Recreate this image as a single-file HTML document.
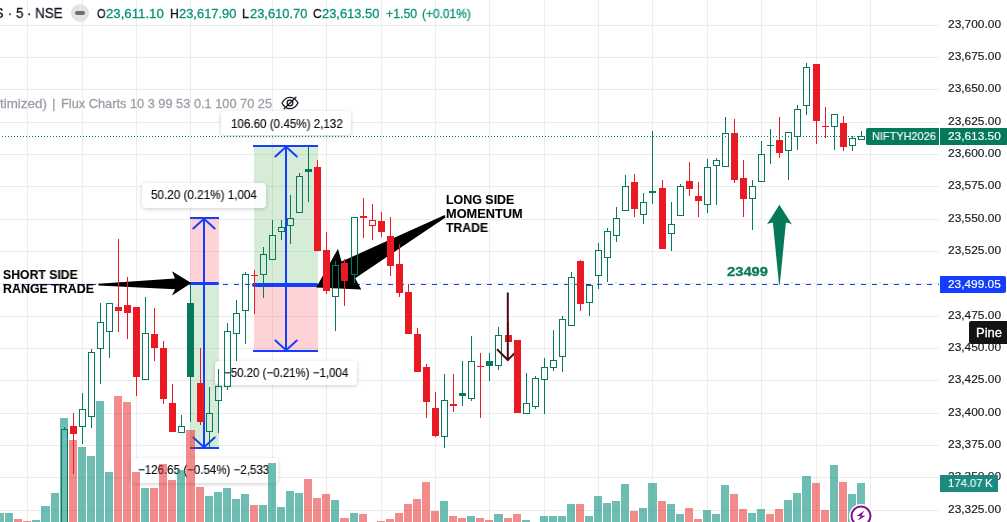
<!DOCTYPE html>
<html><head><meta charset="utf-8"><title>chart</title>
<style>
html,body{margin:0;padding:0;background:#fff;}
body{width:1007px;height:522px;position:relative;overflow:hidden;font-family:"Liberation Sans",sans-serif;color:#131722;}
.lay{position:absolute;left:0;top:0;}
.t{position:absolute;white-space:pre;line-height:20px;height:20px;transform-origin:0 50%;display:block;will-change:transform;}
.lbl{position:absolute;background:rgba(255,255,255,0.9);border-radius:4px;box-shadow:0 1px 4px rgba(0,0,0,0.2);}
.bx{position:absolute;}
</style></head><body>
<svg width="1007" height="522" viewBox="0 0 1007 522" class="lay" shape-rendering="crispEdges"><rect x="27" y="0" width="1" height="522" fill="#ebeded" />
<rect x="82" y="0" width="1" height="522" fill="#ebeded" />
<rect x="136" y="0" width="1" height="522" fill="#ebeded" />
<rect x="190" y="0" width="1" height="522" fill="#ebeded" />
<rect x="272" y="0" width="1" height="522" fill="#ebeded" />
<rect x="326" y="0" width="1" height="522" fill="#ebeded" />
<rect x="381" y="0" width="1" height="522" fill="#ebeded" />
<rect x="435" y="0" width="1" height="522" fill="#ebeded" />
<rect x="489" y="0" width="1" height="522" fill="#ebeded" />
<rect x="544" y="0" width="1" height="522" fill="#ebeded" />
<rect x="598" y="0" width="1" height="522" fill="#ebeded" />
<rect x="652" y="0" width="1" height="522" fill="#ebeded" />
<rect x="707" y="0" width="1" height="522" fill="#ebeded" />
<rect x="761" y="0" width="1" height="522" fill="#ebeded" />
<rect x="816" y="0" width="1" height="522" fill="#ebeded" />
<rect x="870" y="0" width="1" height="522" fill="#ebeded" />
<rect x="0" y="25" width="939" height="1" fill="#ebeded" />
<rect x="0" y="57" width="939" height="1" fill="#ebeded" />
<rect x="0" y="89" width="939" height="1" fill="#ebeded" />
<rect x="0" y="122" width="939" height="1" fill="#ebeded" />
<rect x="0" y="154" width="939" height="1" fill="#ebeded" />
<rect x="0" y="186" width="939" height="1" fill="#ebeded" />
<rect x="0" y="219" width="939" height="1" fill="#ebeded" />
<rect x="0" y="251" width="939" height="1" fill="#ebeded" />
<rect x="0" y="283" width="939" height="1" fill="#ebeded" />
<rect x="0" y="316" width="939" height="1" fill="#ebeded" />
<rect x="0" y="348" width="939" height="1" fill="#ebeded" />
<rect x="0" y="380" width="939" height="1" fill="#ebeded" />
<rect x="0" y="413" width="939" height="1" fill="#ebeded" />
<rect x="0" y="445" width="939" height="1" fill="#ebeded" />
<rect x="0" y="477" width="939" height="1" fill="#ebeded" />
<rect x="0" y="510" width="939" height="1" fill="#ebeded" />
<rect x="190" y="218" width="29" height="65.5" fill="rgba(247,110,120,0.30)" />
<rect x="190" y="283.5" width="29" height="164.5" fill="rgba(76,175,80,0.23)" />
<rect x="254" y="146" width="64" height="139" fill="rgba(76,175,80,0.23)" />
<rect x="254" y="285" width="64" height="66" fill="rgba(247,110,120,0.30)" />
<rect x="189.5" y="217" width="29.5" height="2" fill="#153dff" /><rect x="189.5" y="447" width="29.5" height="2" fill="#153dff" /><line x1="190.0" y1="283.5" x2="217.5" y2="283.5" stroke="#153dff" stroke-width="3" stroke-linecap="round" shape-rendering="auto"/><rect x="203" y="218" width="2" height="230" fill="#153dff" /><path d="M193.3 228.5 L204 218.8 L214.7 228.5" fill="none" stroke="#153dff" stroke-width="2" stroke-linecap="round" shape-rendering="auto"/><path d="M193.3 437.5 L204 447.2 L214.7 437.5" fill="none" stroke="#153dff" stroke-width="2" stroke-linecap="round" shape-rendering="auto"/>
<rect x="253" y="145" width="65.3" height="2" fill="#153dff" /><rect x="253" y="350" width="65.3" height="2" fill="#153dff" /><line x1="254.0" y1="285" x2="316.3" y2="285" stroke="#153dff" stroke-width="4" stroke-linecap="round" shape-rendering="auto"/><rect x="285.1" y="146" width="2" height="205" fill="#153dff" /><path d="M275.40000000000003 156.5 L286.1 146.8 L296.8 156.5" fill="none" stroke="#153dff" stroke-width="2" stroke-linecap="round" shape-rendering="auto"/><path d="M275.40000000000003 340.5 L286.1 350.2 L296.8 340.5" fill="none" stroke="#153dff" stroke-width="2" stroke-linecap="round" shape-rendering="auto"/>
<line x1="-8" y1="284.5" x2="939" y2="284.5" stroke="#153dff" stroke-width="1" stroke-dasharray="5 6"/></svg>
<div class="lbl" style="left:221.3px;top:110.5px;width:129.7px;height:24.5px"></div><div class="lbl" style="left:142.0px;top:183.0px;width:124.2px;height:25.0px"></div><div class="lbl" style="left:215.0px;top:360.8px;width:142.0px;height:24.5px"></div><div class="lbl" style="left:130.8px;top:458.2px;width:147.2px;height:24.9px"></div>
<span class="t" style="left:230.60px;top:113.54px;font-size:12.3px;font-weight:normal;color:#0c0e14;-webkit-text-stroke:0.15px;transform:scaleX(0.9452);">106.60 (0.45%) 2,132</span><span class="t" style="left:151.40px;top:184.94px;font-size:12.3px;font-weight:normal;color:#0c0e14;-webkit-text-stroke:0.15px;transform:scaleX(0.9503);">50.20 (0.21%) 1,004</span><span class="t" style="left:224.40px;top:363.04px;font-size:12.3px;font-weight:normal;color:#0c0e14;-webkit-text-stroke:0.15px;transform:scaleX(0.9339);">−50.20 (−0.21%) −1,004</span><span class="t" style="left:138.15px;top:460.29px;font-size:12.3px;font-weight:normal;color:#0c0e14;-webkit-text-stroke:0.15px;transform:scaleX(0.9383);">−126.65 (−0.54%) −2,533</span>
<svg width="1007" height="522" viewBox="0 0 1007 522" class="lay" shape-rendering="crispEdges"><rect x="-4" y="513" width="8" height="9" fill="rgba(20,148,133,0.62)" />
<rect x="5" y="513" width="8" height="9" fill="rgba(20,148,133,0.62)" />
<rect x="14" y="519" width="8" height="3" fill="rgba(229,23,23,0.5)" />
<rect x="23" y="521" width="8" height="1" fill="rgba(229,23,23,0.5)" />
<rect x="32" y="520" width="8" height="2" fill="rgba(20,148,133,0.62)" />
<rect x="41" y="506" width="9" height="16" fill="rgba(20,148,133,0.62)" />
<rect x="51" y="493" width="8" height="29" fill="rgba(20,148,133,0.62)" />
<rect x="60" y="418" width="8" height="104" fill="rgba(20,148,133,0.62)" />
<rect x="69" y="440" width="8" height="82" fill="rgba(229,23,23,0.5)" />
<rect x="78" y="447" width="8" height="75" fill="rgba(20,148,133,0.62)" />
<rect x="87" y="456" width="8" height="66" fill="rgba(20,148,133,0.62)" />
<rect x="96" y="401" width="8" height="121" fill="rgba(20,148,133,0.62)" />
<rect x="105" y="472" width="8" height="50" fill="rgba(20,148,133,0.62)" />
<rect x="114" y="396" width="8" height="126" fill="rgba(229,23,23,0.5)" />
<rect x="123" y="402" width="8" height="120" fill="rgba(229,23,23,0.5)" />
<rect x="132" y="472" width="8" height="50" fill="rgba(229,23,23,0.5)" />
<rect x="141" y="488" width="8" height="34" fill="rgba(20,148,133,0.62)" />
<rect x="150" y="488" width="8" height="34" fill="rgba(229,23,23,0.5)" />
<rect x="159" y="464" width="8" height="58" fill="rgba(229,23,23,0.5)" />
<rect x="168" y="480" width="8" height="42" fill="rgba(229,23,23,0.5)" />
<rect x="177" y="470" width="8" height="52" fill="rgba(20,148,133,0.62)" />
<rect x="186" y="430" width="9" height="92" fill="rgba(229,23,23,0.5)" />
<rect x="196" y="487" width="8" height="35" fill="rgba(229,23,23,0.5)" />
<rect x="205" y="496" width="8" height="26" fill="rgba(20,148,133,0.62)" />
<rect x="214" y="492" width="8" height="30" fill="rgba(20,148,133,0.62)" />
<rect x="223" y="488" width="8" height="34" fill="rgba(20,148,133,0.62)" />
<rect x="232" y="499" width="8" height="23" fill="rgba(20,148,133,0.62)" />
<rect x="241" y="494" width="8" height="28" fill="rgba(20,148,133,0.62)" />
<rect x="250" y="505" width="8" height="17" fill="rgba(229,23,23,0.5)" />
<rect x="259" y="505" width="8" height="17" fill="rgba(20,148,133,0.62)" />
<rect x="268" y="463" width="8" height="59" fill="rgba(20,148,133,0.62)" />
<rect x="277" y="507" width="8" height="15" fill="rgba(20,148,133,0.62)" />
<rect x="286" y="491" width="8" height="31" fill="rgba(20,148,133,0.62)" />
<rect x="295" y="493" width="8" height="29" fill="rgba(20,148,133,0.62)" />
<rect x="304" y="479" width="8" height="43" fill="rgba(229,23,23,0.5)" />
<rect x="313" y="498" width="8" height="24" fill="rgba(229,23,23,0.5)" />
<rect x="322" y="494" width="8" height="28" fill="rgba(229,23,23,0.5)" />
<rect x="331" y="500" width="8" height="22" fill="rgba(20,148,133,0.62)" />
<rect x="340" y="518" width="9" height="4" fill="rgba(229,23,23,0.5)" />
<rect x="350" y="513" width="8" height="9" fill="rgba(20,148,133,0.62)" />
<rect x="359" y="514" width="8" height="8" fill="rgba(229,23,23,0.5)" />
<rect x="377" y="521" width="8" height="1" fill="rgba(229,23,23,0.5)" />
<rect x="386" y="519" width="8" height="3" fill="rgba(229,23,23,0.5)" />
<rect x="395" y="513" width="8" height="9" fill="rgba(229,23,23,0.5)" />
<rect x="404" y="504" width="8" height="18" fill="rgba(229,23,23,0.5)" />
<rect x="413" y="499" width="8" height="23" fill="rgba(229,23,23,0.5)" />
<rect x="422" y="482" width="8" height="40" fill="rgba(229,23,23,0.5)" />
<rect x="431" y="511" width="8" height="11" fill="rgba(229,23,23,0.5)" />
<rect x="440" y="501" width="8" height="21" fill="rgba(20,148,133,0.62)" />
<rect x="449" y="516" width="8" height="6" fill="rgba(229,23,23,0.5)" />
<rect x="458" y="518" width="8" height="4" fill="rgba(229,23,23,0.5)" />
<rect x="467" y="516" width="8" height="6" fill="rgba(20,148,133,0.62)" />
<rect x="476" y="518" width="8" height="4" fill="rgba(229,23,23,0.5)" />
<rect x="485" y="520" width="8" height="2" fill="rgba(229,23,23,0.5)" />
<rect x="494" y="514" width="9" height="8" fill="rgba(20,148,133,0.62)" />
<rect x="504" y="518" width="8" height="4" fill="rgba(229,23,23,0.5)" />
<rect x="513" y="514" width="8" height="8" fill="rgba(229,23,23,0.5)" />
<rect x="522" y="520" width="8" height="2" fill="rgba(20,148,133,0.62)" />
<rect x="540" y="516" width="8" height="6" fill="rgba(20,148,133,0.62)" />
<rect x="549" y="516" width="8" height="6" fill="rgba(20,148,133,0.62)" />
<rect x="558" y="516" width="8" height="6" fill="rgba(20,148,133,0.62)" />
<rect x="567" y="504" width="8" height="18" fill="rgba(20,148,133,0.62)" />
<rect x="576" y="504" width="8" height="18" fill="rgba(229,23,23,0.5)" />
<rect x="585" y="516" width="8" height="6" fill="rgba(20,148,133,0.62)" />
<rect x="594" y="496" width="8" height="26" fill="rgba(20,148,133,0.62)" />
<rect x="603" y="503" width="8" height="19" fill="rgba(20,148,133,0.62)" />
<rect x="612" y="501" width="8" height="21" fill="rgba(20,148,133,0.62)" />
<rect x="621" y="484" width="8" height="38" fill="rgba(20,148,133,0.62)" />
<rect x="630" y="511" width="8" height="11" fill="rgba(229,23,23,0.5)" />
<rect x="639" y="508" width="8" height="14" fill="rgba(20,148,133,0.62)" />
<rect x="648" y="483" width="9" height="39" fill="rgba(20,148,133,0.62)" />
<rect x="658" y="501" width="8" height="21" fill="rgba(229,23,23,0.5)" />
<rect x="667" y="504" width="8" height="18" fill="rgba(20,148,133,0.62)" />
<rect x="676" y="514" width="8" height="8" fill="rgba(20,148,133,0.62)" />
<rect x="685" y="508" width="8" height="14" fill="rgba(229,23,23,0.5)" />
<rect x="694" y="519" width="8" height="3" fill="rgba(229,23,23,0.5)" />
<rect x="703" y="510" width="8" height="12" fill="rgba(20,148,133,0.62)" />
<rect x="712" y="514" width="8" height="8" fill="rgba(20,148,133,0.62)" />
<rect x="721" y="485" width="8" height="37" fill="rgba(20,148,133,0.62)" />
<rect x="730" y="494" width="8" height="28" fill="rgba(229,23,23,0.5)" />
<rect x="739" y="509" width="8" height="13" fill="rgba(229,23,23,0.5)" />
<rect x="748" y="513" width="8" height="9" fill="rgba(20,148,133,0.62)" />
<rect x="757" y="509" width="8" height="13" fill="rgba(20,148,133,0.62)" />
<rect x="766" y="514" width="8" height="8" fill="rgba(229,23,23,0.5)" />
<rect x="775" y="509" width="8" height="13" fill="rgba(229,23,23,0.5)" />
<rect x="784" y="500" width="8" height="22" fill="rgba(20,148,133,0.62)" />
<rect x="793" y="493" width="8" height="29" fill="rgba(20,148,133,0.62)" />
<rect x="802" y="476" width="9" height="46" fill="rgba(20,148,133,0.62)" />
<rect x="812" y="483" width="8" height="39" fill="rgba(229,23,23,0.5)" />
<rect x="821" y="510" width="8" height="12" fill="rgba(229,23,23,0.5)" />
<rect x="830" y="465" width="8" height="57" fill="rgba(20,148,133,0.62)" />
<rect x="839" y="482" width="8" height="40" fill="rgba(229,23,23,0.5)" />
<rect x="848" y="494" width="8" height="28" fill="rgba(20,148,133,0.62)" />
<rect x="857" y="483" width="8" height="39" fill="rgba(20,148,133,0.62)" />
<g shape-rendering="auto">
<path d="M98.4 285.4 L98.4 283.7 L175 278.4 L172 271.2 L191.3 283 L172 295.6 L175 289.2 Z" fill="#000"/>
<path d="M445.5 217.5 L444.7 215.1 L341.5 261.5 L338 248.7 L316.2 287.5 L361.3 289.6 L355.2 278.2 Z" fill="#000"/>
<path d="M779.4 204.8 L792 224.5 Q789 222.3 785.9 222.8 L779.8 284.4 L779 284.4 L772.9 222.8 Q770 222.3 766.9 224.5 Z" fill="#067a58"/>
</g>
<rect x="64" y="427" width="1" height="2" fill="#05795c" />
<rect x="61.5" y="429.5" width="6" height="111" fill="none" stroke="#05795c" stroke-width="1"/>
<rect x="73" y="413" width="1" height="61" fill="#ea1a24" />
<rect x="70" y="426" width="7" height="8" fill="#ea1a24" />
<rect x="82" y="393" width="1" height="16" fill="#05795c" />
<rect x="82" y="427" width="1" height="17" fill="#05795c" />
<rect x="79.5" y="409.5" width="6" height="17" fill="none" stroke="#05795c" stroke-width="1"/>
<rect x="91" y="349" width="1" height="3" fill="#05795c" />
<rect x="91" y="417" width="1" height="11" fill="#05795c" />
<rect x="88.5" y="352.5" width="6" height="64" fill="none" stroke="#05795c" stroke-width="1"/>
<rect x="100" y="303" width="1" height="19" fill="#05795c" />
<rect x="100" y="349" width="1" height="35" fill="#05795c" />
<rect x="97.5" y="322.5" width="6" height="26" fill="none" stroke="#05795c" stroke-width="1"/>
<rect x="109" y="332" width="1" height="26" fill="#05795c" />
<rect x="106.5" y="303.5" width="6" height="28" fill="none" stroke="#05795c" stroke-width="1"/>
<rect x="118" y="239" width="1" height="93" fill="#ea1a24" />
<rect x="115" y="307" width="7" height="4" fill="#ea1a24" />
<rect x="127" y="277" width="1" height="62" fill="#ea1a24" />
<rect x="124" y="305" width="7" height="8" fill="#ea1a24" />
<rect x="136" y="307" width="1" height="89" fill="#ea1a24" />
<rect x="133" y="307" width="7" height="70" fill="#ea1a24" />
<rect x="145" y="297" width="1" height="36" fill="#05795c" />
<rect x="142.5" y="333.5" width="6" height="46" fill="none" stroke="#05795c" stroke-width="1"/>
<rect x="154" y="308" width="1" height="53" fill="#ea1a24" />
<rect x="151" y="334" width="7" height="14" fill="#ea1a24" />
<rect x="163" y="341" width="1" height="63" fill="#ea1a24" />
<rect x="160" y="348" width="7" height="51" fill="#ea1a24" />
<rect x="172" y="384" width="1" height="48" fill="#ea1a24" />
<rect x="169" y="403" width="7" height="29" fill="#ea1a24" />
<rect x="181" y="415" width="1" height="11" fill="#05795c" />
<rect x="178.5" y="426.5" width="6" height="6" fill="none" stroke="#05795c" stroke-width="1"/>
<rect x="190" y="284" width="1" height="138" fill="#05795c" />
<rect x="187" y="303" width="7" height="74" fill="#05795c" />
<rect x="200" y="348" width="1" height="77" fill="#ea1a24" />
<rect x="197" y="383" width="7" height="39" fill="#ea1a24" />
<rect x="209" y="387" width="1" height="26" fill="#05795c" />
<rect x="209" y="432" width="1" height="15" fill="#05795c" />
<rect x="206.5" y="413.5" width="6" height="18" fill="none" stroke="#05795c" stroke-width="1"/>
<rect x="218" y="369" width="1" height="17" fill="#05795c" />
<rect x="218" y="401" width="1" height="32" fill="#05795c" />
<rect x="215.5" y="386.5" width="6" height="14" fill="none" stroke="#05795c" stroke-width="1"/>
<rect x="227" y="323" width="1" height="8" fill="#05795c" />
<rect x="227" y="387" width="1" height="3" fill="#05795c" />
<rect x="224.5" y="331.5" width="6" height="55" fill="none" stroke="#05795c" stroke-width="1"/>
<rect x="236" y="300" width="1" height="13" fill="#05795c" />
<rect x="236" y="334" width="1" height="27" fill="#05795c" />
<rect x="233.5" y="313.5" width="6" height="20" fill="none" stroke="#05795c" stroke-width="1"/>
<rect x="245" y="272" width="1" height="2" fill="#05795c" />
<rect x="245" y="311" width="1" height="33" fill="#05795c" />
<rect x="242.5" y="274.5" width="6" height="36" fill="none" stroke="#05795c" stroke-width="1"/>
<rect x="254" y="270" width="1" height="44" fill="#ea1a24" />
<rect x="251" y="275" width="7" height="1" fill="#ea1a24" />
<rect x="263" y="247" width="1" height="7" fill="#05795c" />
<rect x="263" y="275" width="1" height="23" fill="#05795c" />
<rect x="260.5" y="254.5" width="6" height="20" fill="none" stroke="#05795c" stroke-width="1"/>
<rect x="272" y="220" width="1" height="15" fill="#05795c" />
<rect x="269.5" y="235.5" width="6" height="24" fill="none" stroke="#05795c" stroke-width="1"/>
<rect x="281" y="220" width="1" height="7" fill="#05795c" />
<rect x="281" y="232" width="1" height="8" fill="#05795c" />
<rect x="278.5" y="227.5" width="6" height="4" fill="none" stroke="#05795c" stroke-width="1"/>
<rect x="290" y="195" width="1" height="23" fill="#05795c" />
<rect x="290" y="226" width="1" height="18" fill="#05795c" />
<rect x="287.5" y="218.5" width="6" height="7" fill="none" stroke="#05795c" stroke-width="1"/>
<rect x="299" y="173" width="1" height="3" fill="#05795c" />
<rect x="296.5" y="176.5" width="6" height="36" fill="none" stroke="#05795c" stroke-width="1"/>
<rect x="308" y="147" width="1" height="55" fill="#05795c" />
<rect x="305" y="169" width="7" height="3" fill="#05795c" />
<rect x="317" y="160" width="1" height="91" fill="#ea1a24" />
<rect x="314" y="167" width="7" height="84" fill="#ea1a24" />
<rect x="326" y="232" width="1" height="62" fill="#ea1a24" />
<rect x="323" y="250" width="7" height="41" fill="#ea1a24" />
<rect x="335" y="261" width="1" height="4" fill="#05795c" />
<rect x="335" y="297" width="1" height="34" fill="#05795c" />
<rect x="332.5" y="265.5" width="6" height="31" fill="none" stroke="#05795c" stroke-width="1"/>
<rect x="344" y="259" width="1" height="47" fill="#ea1a24" />
<rect x="341" y="263" width="7" height="18" fill="#ea1a24" />
<rect x="354" y="275" width="1" height="8" fill="#05795c" />
<rect x="351.5" y="217.5" width="6" height="57" fill="none" stroke="#05795c" stroke-width="1"/>
<rect x="363" y="198" width="1" height="40" fill="#ea1a24" />
<rect x="360" y="216" width="7" height="2" fill="#ea1a24" />
<rect x="372" y="204" width="1" height="16" fill="#ea1a24" />
<rect x="372" y="226" width="1" height="14" fill="#ea1a24" />
<rect x="369.5" y="220.5" width="6" height="5" fill="none" stroke="#ea1a24" stroke-width="1"/>
<rect x="381" y="212" width="1" height="25" fill="#ea1a24" />
<rect x="378" y="221" width="7" height="11" fill="#ea1a24" />
<rect x="390" y="217" width="1" height="59" fill="#ea1a24" />
<rect x="387" y="236" width="7" height="30" fill="#ea1a24" />
<rect x="399" y="244" width="1" height="53" fill="#ea1a24" />
<rect x="396" y="264" width="7" height="29" fill="#ea1a24" />
<rect x="408" y="284" width="1" height="50" fill="#ea1a24" />
<rect x="405" y="292" width="7" height="42" fill="#ea1a24" />
<rect x="417" y="328" width="1" height="44" fill="#ea1a24" />
<rect x="414" y="334" width="7" height="38" fill="#ea1a24" />
<rect x="426" y="364" width="1" height="54" fill="#ea1a24" />
<rect x="423" y="367" width="7" height="35" fill="#ea1a24" />
<rect x="435" y="392" width="1" height="45" fill="#ea1a24" />
<rect x="432" y="408" width="7" height="28" fill="#ea1a24" />
<rect x="444" y="374" width="1" height="26" fill="#05795c" />
<rect x="444" y="437" width="1" height="11" fill="#05795c" />
<rect x="441.5" y="400.5" width="6" height="36" fill="none" stroke="#05795c" stroke-width="1"/>
<rect x="453" y="374" width="1" height="38" fill="#ea1a24" />
<rect x="450" y="404" width="7" height="2" fill="#ea1a24" />
<rect x="462" y="361" width="1" height="45" fill="#05795c" />
<rect x="459" y="393" width="7" height="3" fill="#05795c" />
<rect x="471" y="336" width="1" height="25" fill="#05795c" />
<rect x="471" y="399" width="1" height="2" fill="#05795c" />
<rect x="468.5" y="361.5" width="6" height="37" fill="none" stroke="#05795c" stroke-width="1"/>
<rect x="480" y="353" width="1" height="65" fill="#ea1a24" />
<rect x="477" y="366" width="7" height="1" fill="#ea1a24" />
<rect x="489" y="353" width="1" height="28" fill="#05795c" />
<rect x="486" y="361" width="7" height="5" fill="#05795c" />
<rect x="498" y="327" width="1" height="8" fill="#05795c" />
<rect x="498" y="366" width="1" height="4" fill="#05795c" />
<rect x="495.5" y="335.5" width="6" height="30" fill="none" stroke="#05795c" stroke-width="1"/>
<rect x="508" y="322" width="1" height="20" fill="#ea1a24" />
<rect x="505" y="335" width="7" height="7" fill="#ea1a24" />
<rect x="517" y="340" width="1" height="73" fill="#ea1a24" />
<rect x="514" y="340" width="7" height="73" fill="#ea1a24" />
<rect x="526" y="373" width="1" height="30" fill="#05795c" />
<rect x="523.5" y="403.5" width="6" height="10" fill="none" stroke="#05795c" stroke-width="1"/>
<rect x="535" y="376" width="1" height="2" fill="#05795c" />
<rect x="535" y="407" width="1" height="2" fill="#05795c" />
<rect x="532.5" y="378.5" width="6" height="28" fill="none" stroke="#05795c" stroke-width="1"/>
<rect x="544" y="358" width="1" height="9" fill="#05795c" />
<rect x="544" y="380" width="1" height="34" fill="#05795c" />
<rect x="541.5" y="367.5" width="6" height="12" fill="none" stroke="#05795c" stroke-width="1"/>
<rect x="553" y="330" width="1" height="30" fill="#05795c" />
<rect x="553" y="368" width="1" height="3" fill="#05795c" />
<rect x="550.5" y="360.5" width="6" height="7" fill="none" stroke="#05795c" stroke-width="1"/>
<rect x="562" y="316" width="1" height="3" fill="#05795c" />
<rect x="562" y="357" width="1" height="15" fill="#05795c" />
<rect x="559.5" y="319.5" width="6" height="37" fill="none" stroke="#05795c" stroke-width="1"/>
<rect x="571" y="272" width="1" height="5" fill="#05795c" />
<rect x="568.5" y="277.5" width="6" height="48" fill="none" stroke="#05795c" stroke-width="1"/>
<rect x="580" y="260" width="1" height="51" fill="#ea1a24" />
<rect x="577" y="261" width="7" height="43" fill="#ea1a24" />
<rect x="589" y="303" width="1" height="13" fill="#05795c" />
<rect x="586.5" y="285.5" width="6" height="17" fill="none" stroke="#05795c" stroke-width="1"/>
<rect x="598" y="243" width="1" height="7" fill="#05795c" />
<rect x="598" y="276" width="1" height="13" fill="#05795c" />
<rect x="595.5" y="250.5" width="6" height="25" fill="none" stroke="#05795c" stroke-width="1"/>
<rect x="607" y="228" width="1" height="3" fill="#05795c" />
<rect x="607" y="258" width="1" height="24" fill="#05795c" />
<rect x="604.5" y="231.5" width="6" height="26" fill="none" stroke="#05795c" stroke-width="1"/>
<rect x="616" y="207" width="1" height="11" fill="#05795c" />
<rect x="616" y="236" width="1" height="6" fill="#05795c" />
<rect x="613.5" y="218.5" width="6" height="17" fill="none" stroke="#05795c" stroke-width="1"/>
<rect x="625" y="175" width="1" height="11" fill="#05795c" />
<rect x="622.5" y="186.5" width="6" height="24" fill="none" stroke="#05795c" stroke-width="1"/>
<rect x="634" y="174" width="1" height="43" fill="#ea1a24" />
<rect x="631" y="182" width="7" height="27" fill="#ea1a24" />
<rect x="643" y="193" width="1" height="9" fill="#05795c" />
<rect x="643" y="215" width="1" height="9" fill="#05795c" />
<rect x="640.5" y="202.5" width="6" height="12" fill="none" stroke="#05795c" stroke-width="1"/>
<rect x="652" y="131" width="1" height="73" fill="#05795c" />
<rect x="649" y="191" width="7" height="2" fill="#05795c" />
<rect x="662" y="180" width="1" height="69" fill="#ea1a24" />
<rect x="659" y="188" width="7" height="61" fill="#ea1a24" />
<rect x="671" y="202" width="1" height="22" fill="#05795c" />
<rect x="671" y="234" width="1" height="17" fill="#05795c" />
<rect x="668.5" y="224.5" width="6" height="9" fill="none" stroke="#05795c" stroke-width="1"/>
<rect x="680" y="184" width="1" height="2" fill="#05795c" />
<rect x="677.5" y="186.5" width="6" height="29" fill="none" stroke="#05795c" stroke-width="1"/>
<rect x="689" y="162" width="1" height="34" fill="#ea1a24" />
<rect x="686" y="181" width="7" height="8" fill="#ea1a24" />
<rect x="698" y="182" width="1" height="35" fill="#ea1a24" />
<rect x="695" y="196" width="7" height="5" fill="#ea1a24" />
<rect x="707" y="159" width="1" height="8" fill="#05795c" />
<rect x="707" y="205" width="1" height="8" fill="#05795c" />
<rect x="704.5" y="167.5" width="6" height="37" fill="none" stroke="#05795c" stroke-width="1"/>
<rect x="716" y="158" width="1" height="2" fill="#05795c" />
<rect x="716" y="166" width="1" height="39" fill="#05795c" />
<rect x="713.5" y="160.5" width="6" height="5" fill="none" stroke="#05795c" stroke-width="1"/>
<rect x="725" y="117" width="1" height="16" fill="#05795c" />
<rect x="722.5" y="133.5" width="6" height="33" fill="none" stroke="#05795c" stroke-width="1"/>
<rect x="734" y="119" width="1" height="64" fill="#ea1a24" />
<rect x="731" y="133" width="7" height="47" fill="#ea1a24" />
<rect x="743" y="160" width="1" height="57" fill="#ea1a24" />
<rect x="740" y="178" width="7" height="21" fill="#ea1a24" />
<rect x="752" y="180" width="1" height="6" fill="#05795c" />
<rect x="752" y="199" width="1" height="31" fill="#05795c" />
<rect x="749.5" y="186.5" width="6" height="12" fill="none" stroke="#05795c" stroke-width="1"/>
<rect x="761" y="141" width="1" height="13" fill="#05795c" />
<rect x="758.5" y="154.5" width="6" height="27" fill="none" stroke="#05795c" stroke-width="1"/>
<rect x="770" y="129" width="1" height="35" fill="#05795c" />
<rect x="767" y="145" width="7" height="1" fill="#05795c" />
<rect x="779" y="117" width="1" height="41" fill="#ea1a24" />
<rect x="776" y="140" width="7" height="13" fill="#ea1a24" />
<rect x="788" y="151" width="1" height="29" fill="#05795c" />
<rect x="785.5" y="132.5" width="6" height="18" fill="none" stroke="#05795c" stroke-width="1"/>
<rect x="797" y="105" width="1" height="4" fill="#05795c" />
<rect x="797" y="137" width="1" height="13" fill="#05795c" />
<rect x="794.5" y="109.5" width="6" height="27" fill="none" stroke="#05795c" stroke-width="1"/>
<rect x="806" y="63" width="1" height="4" fill="#05795c" />
<rect x="806" y="106" width="1" height="9" fill="#05795c" />
<rect x="803.5" y="67.5" width="6" height="38" fill="none" stroke="#05795c" stroke-width="1"/>
<rect x="816" y="64" width="1" height="80" fill="#ea1a24" />
<rect x="813" y="64" width="7" height="57" fill="#ea1a24" />
<rect x="825" y="107" width="1" height="31" fill="#ea1a24" />
<rect x="822" y="126" width="7" height="1" fill="#ea1a24" />
<rect x="834" y="127" width="1" height="23" fill="#05795c" />
<rect x="831.5" y="114.5" width="6" height="12" fill="none" stroke="#05795c" stroke-width="1"/>
<rect x="843" y="116" width="1" height="35" fill="#ea1a24" />
<rect x="840" y="123" width="7" height="24" fill="#ea1a24" />
<rect x="852" y="136" width="1" height="2" fill="#05795c" />
<rect x="852" y="146" width="1" height="5" fill="#05795c" />
<rect x="849.5" y="138.5" width="6" height="7" fill="none" stroke="#05795c" stroke-width="1"/>
<rect x="861" y="131" width="1" height="5" fill="#05795c" />
<rect x="858.5" y="136.5" width="6" height="3" fill="none" stroke="#05795c" stroke-width="1"/>
<path d="M507.8 292.5 L507.8 359.5 M497 349.3 L507.8 360 L518.5 349.3" fill="none" stroke="#4d0a14" stroke-width="2" shape-rendering="auto"/>
<rect x="514" y="340" width="7" height="73" fill="#ea1a24" />
<line x1="-1" y1="136.5" x2="866" y2="136.5" stroke="#05795c" stroke-width="1" stroke-dasharray="1 2"/></svg>
<span class="t" style="left:948.00px;top:13.63px;font-size:11.6px;font-weight:normal;color:#131722;-webkit-text-stroke:0.15px;transform:scaleX(1.0276);">23,700.00</span><span class="t" style="left:948.00px;top:45.97px;font-size:11.6px;font-weight:normal;color:#131722;-webkit-text-stroke:0.15px;transform:scaleX(1.0276);">23,675.00</span><span class="t" style="left:948.00px;top:78.31px;font-size:11.6px;font-weight:normal;color:#131722;-webkit-text-stroke:0.15px;transform:scaleX(1.0276);">23,650.00</span><span class="t" style="left:948.00px;top:110.65px;font-size:11.6px;font-weight:normal;color:#131722;-webkit-text-stroke:0.15px;transform:scaleX(1.0276);">23,625.00</span><span class="t" style="left:948.00px;top:142.99px;font-size:11.6px;font-weight:normal;color:#131722;-webkit-text-stroke:0.15px;transform:scaleX(1.0276);">23,600.00</span><span class="t" style="left:948.00px;top:175.33px;font-size:11.6px;font-weight:normal;color:#131722;-webkit-text-stroke:0.15px;transform:scaleX(1.0276);">23,575.00</span><span class="t" style="left:948.00px;top:207.67px;font-size:11.6px;font-weight:normal;color:#131722;-webkit-text-stroke:0.15px;transform:scaleX(1.0276);">23,550.00</span><span class="t" style="left:948.00px;top:240.01px;font-size:11.6px;font-weight:normal;color:#131722;-webkit-text-stroke:0.15px;transform:scaleX(1.0276);">23,525.00</span><span class="t" style="left:948.00px;top:272.35px;font-size:11.6px;font-weight:normal;color:#131722;-webkit-text-stroke:0.15px;transform:scaleX(1.0276);">23,500.00</span><span class="t" style="left:948.00px;top:304.69px;font-size:11.6px;font-weight:normal;color:#131722;-webkit-text-stroke:0.15px;transform:scaleX(1.0276);">23,475.00</span><span class="t" style="left:948.00px;top:337.03px;font-size:11.6px;font-weight:normal;color:#131722;-webkit-text-stroke:0.15px;transform:scaleX(1.0276);">23,450.00</span><span class="t" style="left:948.00px;top:369.37px;font-size:11.6px;font-weight:normal;color:#131722;-webkit-text-stroke:0.15px;transform:scaleX(1.0276);">23,425.00</span><span class="t" style="left:948.00px;top:401.71px;font-size:11.6px;font-weight:normal;color:#131722;-webkit-text-stroke:0.15px;transform:scaleX(1.0276);">23,400.00</span><span class="t" style="left:948.00px;top:434.05px;font-size:11.6px;font-weight:normal;color:#131722;-webkit-text-stroke:0.15px;transform:scaleX(1.0276);">23,375.00</span><span class="t" style="left:948.00px;top:466.39px;font-size:11.6px;font-weight:normal;color:#131722;-webkit-text-stroke:0.15px;transform:scaleX(1.0276);">23,350.00</span><span class="t" style="left:948.00px;top:498.73px;font-size:11.6px;font-weight:normal;color:#131722;-webkit-text-stroke:0.15px;transform:scaleX(1.0276);">23,325.00</span>
<div class="bx" style="left:71px;top:3.5px;width:18.4px;height:18.4px;border-radius:50%;background:#e3e3e6;"></div>
<div class="bx" style="left:75.4px;top:10.9px;width:9.6px;height:4px;border-radius:2px;background:#6d707b;"></div>
<svg class="bx" style="left:281px;top:95px" width="18" height="16" viewBox="0 0 18 16"><g fill="none" stroke="#131722" stroke-width="1.3"><path d="M1 8 C3 4.2 6 2.3 9 2.3 C12 2.3 15 4.2 17 8 C15 11.8 12 13.7 9 13.7 C6 13.7 3 11.8 1 8 Z"/><circle cx="9" cy="8" r="2.8"/><path d="M3.2 13.8 L14.9 2.2" stroke-linecap="round"/></g></svg>
<div class="bx" style="left:866px;top:128px;width:72.5px;height:16.5px;background:#05795c;border-radius:2px 0 0 2px;"></div>
<div class="bx" style="left:940px;top:128px;width:67px;height:16.5px;background:#05795c;"></div>
<div class="bx" style="left:940px;top:276px;width:66px;height:16.5px;background:#153dff;border-radius:0 2px 2px 0;"></div>
<div class="bx" style="left:940px;top:475px;width:57.7px;height:16.6px;background:#1a8a7e;"></div>
<div class="bx" style="left:969.3px;top:320.9px;width:40px;height:23px;background:#131313;border-radius:2px 0 0 2px;"></div>
<span class="t" style="left:16.10px;top:3.31px;font-size:14.2px;font-weight:normal;color:#131722;-webkit-text-stroke:0.3px;transform:scaleX(0.9361);">5 · NSE</span><span class="t" style="left:8.40px;top:3.31px;font-size:14.2px;font-weight:normal;color:#131722;-webkit-text-stroke:0.3px;transform:scaleX(0.8449);">·</span><span class="t" style="left:-6.30px;top:3.31px;font-size:14.2px;font-weight:normal;color:#131722;-webkit-text-stroke:0.3px;transform:scaleX(1.0139);">S</span><span class="t" style="left:96.60px;top:3.79px;font-size:12.3px;font-weight:normal;color:#131722;-webkit-text-stroke:0.3px;transform:scaleX(0.9083);">O</span><span class="t" style="left:106.10px;top:3.79px;font-size:12.3px;font-weight:normal;color:#0a9478;-webkit-text-stroke:0.3px;transform:scaleX(1.0744);">23,611.10</span><span class="t" style="left:169.90px;top:3.79px;font-size:12.3px;font-weight:normal;color:#131722;-webkit-text-stroke:0.3px;transform:scaleX(0.9561);">H</span><span class="t" style="left:179.40px;top:3.79px;font-size:12.3px;font-weight:normal;color:#0a9478;-webkit-text-stroke:0.3px;transform:scaleX(1.0508);">23,617.90</span><span class="t" style="left:242.40px;top:3.79px;font-size:12.3px;font-weight:normal;color:#131722;-webkit-text-stroke:0.3px;transform:scaleX(0.9498);">L</span><span class="t" style="left:249.90px;top:3.79px;font-size:12.3px;font-weight:normal;color:#0a9478;-webkit-text-stroke:0.3px;transform:scaleX(1.0490);">23,610.70</span><span class="t" style="left:312.70px;top:3.79px;font-size:12.3px;font-weight:normal;color:#131722;-webkit-text-stroke:0.3px;transform:scaleX(0.9786);">C</span><span class="t" style="left:321.90px;top:3.79px;font-size:12.3px;font-weight:normal;color:#0a9478;-webkit-text-stroke:0.3px;transform:scaleX(1.0490);">23,613.50</span><span class="t" style="left:385.70px;top:3.79px;font-size:12.3px;font-weight:normal;color:#0a9478;-webkit-text-stroke:0.3px;transform:scaleX(1.0024);">+1.50</span><span class="t" style="left:421.90px;top:3.79px;font-size:12.3px;font-weight:normal;color:#0a9478;-webkit-text-stroke:0.3px;transform:scaleX(0.9692);">(+0.01%)</span><span class="t" style="left:-0.30px;top:94.15px;font-size:12.7px;font-weight:normal;color:#9c9fa8;-webkit-text-stroke:0.3px;transform:scaleX(1.0558);">timized)</span><span class="t" style="left:52.10px;top:94.15px;font-size:12.7px;font-weight:normal;color:#9c9fa8;-webkit-text-stroke:0.3px;transform:scaleX(1.0616);">|</span><span class="t" style="left:61.30px;top:94.15px;font-size:12.7px;font-weight:normal;color:#9c9fa8;-webkit-text-stroke:0.3px;transform:scaleX(1.0076);">Flux Charts 10 3 99 53 0.1 100 70 25</span><span class="t" style="left:2.50px;top:265.14px;font-size:12.3px;font-weight:bold;color:#000;-webkit-text-stroke:0.12px;transform:scaleX(0.9937);">SHORT SIDE</span><span class="t" style="left:2.70px;top:279.14px;font-size:12.3px;font-weight:bold;color:#000;-webkit-text-stroke:0.12px;transform:scaleX(1.0090);">RANGE TRADE</span><span class="t" style="left:446.20px;top:190.14px;font-size:12.4px;font-weight:bold;color:#000;-webkit-text-stroke:0.12px;transform:scaleX(1.0028);">LONG SIDE</span><span class="t" style="left:446.20px;top:204.04px;font-size:12.4px;font-weight:bold;color:#000;-webkit-text-stroke:0.12px;transform:scaleX(1.0303);">MOMENTUM</span><span class="t" style="left:446.30px;top:217.64px;font-size:12.4px;font-weight:bold;color:#000;-webkit-text-stroke:0.12px;transform:scaleX(0.9839);">TRADE</span><span class="t" style="left:727.00px;top:262.05px;font-size:13.4px;font-weight:bold;color:#0b7a58;-webkit-text-stroke:0.3px;transform:scaleX(1.1007);">23499</span><span class="t" style="left:871.50px;top:126.38px;font-size:11.6px;font-weight:normal;color:#fff;-webkit-text-stroke:0.15px;transform:scaleX(0.9445);">NIFTYH2026</span><span class="t" style="left:948.40px;top:126.38px;font-size:11.6px;font-weight:normal;color:#fff;-webkit-text-stroke:0.15px;transform:scaleX(1.0237);">23,613.50</span><span class="t" style="left:948.40px;top:274.38px;font-size:11.6px;font-weight:normal;color:#fff;-webkit-text-stroke:0.15px;transform:scaleX(1.0237);">23,499.05</span><span class="t" style="left:948.30px;top:473.43px;font-size:11.6px;font-weight:normal;color:#fff;-webkit-text-stroke:0.15px;transform:scaleX(0.9755);">174.07</span><span class="t" style="left:985.40px;top:473.43px;font-size:11.6px;font-weight:normal;color:#fff;-webkit-text-stroke:0.15px;transform:scaleX(0.9956);">K</span><span class="t" style="left:976.20px;top:323.15px;font-size:13px;font-weight:normal;color:#fff;-webkit-text-stroke:0.3px;transform:scaleX(0.9834);">Pine</span>
<svg class="bx" style="left:848.4px;top:503.4px" width="26" height="26" viewBox="-13 -13 26 26"><circle cx="0" cy="0" r="12" fill="#fff"/><circle cx="0" cy="0" r="9.5" fill="#fff" stroke="#7a1090" stroke-width="2"/><path d="M3.4 -5.4 L-4.3 0.1 L-0.2 0.3 L-3.3 4.6 L4.6 -0.3 L0.4 -0.6 Z" fill="#7a1090"/></svg>
</body></html>
